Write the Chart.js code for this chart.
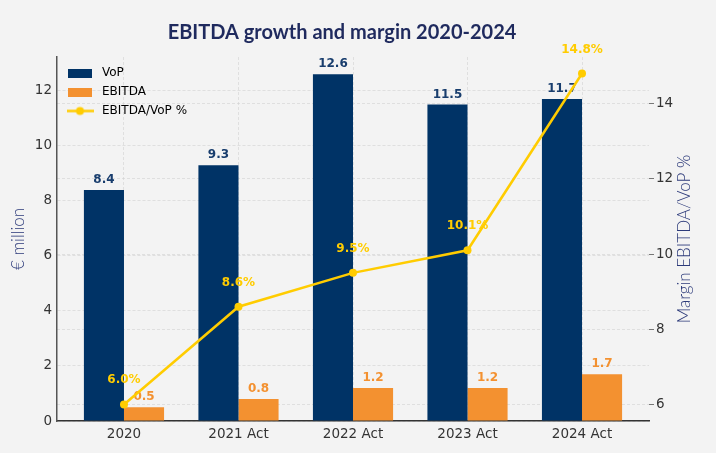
<!DOCTYPE html>
<html>
<head>
<meta charset="utf-8">
<script src="https://cdn.jsdelivr.net/npm/chart.js@4.4.1/dist/chart.umd.min.js"></script>
<style>
  body { margin: 0; background: #f3f3f3; }
  canvas { display: block; }
</style>
</head>
<body>
<canvas id="myChart" width="716" height="453"></canvas>
<script>
const categories = ["2020", "2021 Act", "2022 Act", "2023 Act", "2024 Act"];
const vop = [8.4, 9.3, 12.6, 11.5, 11.7];
const ebitda = [0.5, 0.8, 1.2, 1.2, 1.7];
const margin = [6.0, 8.6, 9.5, 10.1, 14.8];
const leftTicks = [0, 2, 4, 6, 8, 10, 12];
const rightTicks = [6, 8, 10, 12, 14];

const navy = "#003366";
const orange = "#f39130";
const gold = "#ffcc00";
const gridColor = "rgba(205, 205, 205, 0.55)";
const tickFont = { family: "DejaVu Sans", size: 13.5 };

// little pictures for the legend entries
function boxIcon(color) {
    const c = document.createElement("canvas");
    c.width = 24;
    c.height = 9;
    const g = c.getContext("2d");
    g.fillStyle = color;
    g.fillRect(0, 0, 24, 9);
    return c;
}
function lineIcon(color) {
    const c = document.createElement("canvas");
    c.width = 27;
    c.height = 11;
    const g = c.getContext("2d");
    g.strokeStyle = color;
    g.lineWidth = 2.5;
    g.beginPath();
    g.moveTo(0, 5.5);
    g.lineTo(27, 5.5);
    g.stroke();
    g.fillStyle = color;
    g.beginPath();
    g.arc(13.5, 5.5, 4, 0, Math.PI * 2);
    g.fill();
    return c;
}

const textPlugin = {
    id: "texts",
    afterLayout(chart) {
        // legend sits in the top left corner of the plot
        const area = chart.chartArea;
        chart.legend.top = area.top + 3;
        chart.legend.bottom = area.bottom;
        chart.legend.left = area.left;
    },
    beforeDatasetDraw(chart, args) {
        if (args.index !== 0) return;
        const ctx = chart.ctx;
        ctx.save();
        ctx.textAlign = "center";
        ctx.textBaseline = "alphabetic";
        ctx.font = 'bold 12px "DejaVu Sans"';
        ctx.fillStyle = "#183d6d";
        chart.getDatasetMeta(1).data.forEach((b, i) => ctx.fillText(vop[i].toFixed(1), b.x, b.y - 7));
        ctx.fillStyle = orange;
        chart.getDatasetMeta(2).data.forEach((b, i) => ctx.fillText(ebitda[i].toFixed(1), b.x, b.y - 7));
        ctx.fillStyle = gold;
        chart.getDatasetMeta(0).data.forEach((p, i) => ctx.fillText(margin[i].toFixed(1) + "%", p.x, p.y - 21));
        ctx.restore();
    },
    afterDraw(chart) {
        const ctx = chart.ctx;
        const area = chart.chartArea;
        const midY = (area.top + area.bottom) / 2;
        ctx.save();
        ctx.textAlign = "center";
        ctx.textBaseline = "alphabetic";
        ctx.font = 'bold 20px "Lato"';
        ctx.fillStyle = "#1f2a5e";
        ctx.fillText("EBITDA growth and margin 2020-2024", 342, 39);

        ctx.textBaseline = "middle";
        ctx.font = '300 17px "Lato"';
        ctx.fillStyle = "#2c3a7a";
        ctx.translate(19, midY);
        ctx.rotate(-Math.PI / 2);
        ctx.fillText("€ million", 0, 0);
        ctx.restore();

        ctx.save();
        ctx.textAlign = "center";
        ctx.textBaseline = "middle";
        ctx.font = '300 17px "Lato"';
        ctx.fillStyle = "#2c3a7a";
        ctx.translate(685, midY);
        ctx.rotate(-Math.PI / 2);
        ctx.fillText("Margin EBITDA/VoP %", 0, 0);
        ctx.restore();
    }
};

const data = {
    datasets: [
        {
            type: "line",
            label: "EBITDA/VoP %",
            data: margin.map((m, i) => ({ x: i, y: m })),
            yAxisID: "y1",
            borderColor: gold,
            backgroundColor: gold,
            borderWidth: 2.5,
            pointRadius: 4,
            pointBackgroundColor: gold,
            pointBorderWidth: 0,
            tension: 0
        },
        {
            type: "bar",
            label: "VoP",
            data: vop.map((v, i) => ({ x: i, y: v })),
            yAxisID: "y",
            backgroundColor: navy,
            categoryPercentage: 0.7,
            barPercentage: 1.0
        },
        {
            type: "bar",
            label: "EBITDA",
            data: ebitda.map((v, i) => ({ x: i, y: v })),
            yAxisID: "y",
            backgroundColor: orange,
            categoryPercentage: 0.7,
            barPercentage: 1.0
        }
    ]
};

const config = {
    type: "bar",
    data: data,
    options: {
        responsive: false,
        animation: false,
        layout: { padding: { top: 57, left: 0, right: 0, bottom: 0 } },
        plugins: {
            tooltip: { enabled: false },
            title: { display: false },
            legend: {
                position: "chartArea",
                align: "start",
                labels: {
                    usePointStyle: true,
                    pointStyleWidth: 32,
                    padding: 7,
                    color: "#333333",
                    font: { family: "DejaVu Sans", size: 12 },
                    generateLabels: function () {
                        return [
                            { text: "VoP", pointStyle: boxIcon(navy), fillStyle: navy, strokeStyle: navy, lineWidth: 0, datasetIndex: 1 },
                            { text: "EBITDA", pointStyle: boxIcon(orange), fillStyle: orange, strokeStyle: orange, lineWidth: 0, datasetIndex: 2 },
                            { text: "EBITDA/VoP %", pointStyle: lineIcon(gold), fillStyle: gold, strokeStyle: gold, lineWidth: 0, datasetIndex: 0 }
                        ];
                    }
                }
            }
        },
        scales: {
            x: {
                type: "linear",
                min: -0.585,
                max: 4.585,
                offset: false,
                z: 1,
                afterBuildTicks: (scale) => { scale.ticks = categories.map((c, i) => ({ value: i })); },
                afterFit: (scale) => { scale.height = 32; },
                ticks: {
                    callback: (v) => categories[v],
                    color: "#333333",
                    font: tickFont,
                    padding: 5,
                    maxRotation: 0
                },
                grid: { color: gridColor, drawTicks: false, offset: false },
                border: { color: "#333333", width: 1.5, dash: [3, 2] }
            },
            y: {
                position: "left",
                min: 0,
                max: 13.23,
                z: 1,
                afterBuildTicks: (scale) => { scale.ticks = leftTicks.map((v) => ({ value: v })); },
                afterFit: (scale) => { scale.width = 57; },
                ticks: { color: "#333333", font: tickFont, padding: 5 },
                grid: { color: gridColor, drawTicks: false },
                border: { color: "#555555", width: 1.5, dash: [3, 2] }
            },
            y1: {
                position: "right",
                min: 5.56,
                max: 15.24,
                z: 1,
                afterBuildTicks: (scale) => { scale.ticks = rightTicks.map((v) => ({ value: v })); },
                afterFit: (scale) => { scale.width = 67; },
                ticks: { color: "#333333", font: tickFont, padding: 2 },
                grid: { color: gridColor, drawTicks: true, tickLength: 5, tickColor: "#777777", tickBorderDash: [] },
                border: { display: false, dash: [3, 2] }
            }
        }
    },
    plugins: [textPlugin]
};

const myChart = new Chart(document.getElementById("myChart"), config);
</script>
</body>
</html>
